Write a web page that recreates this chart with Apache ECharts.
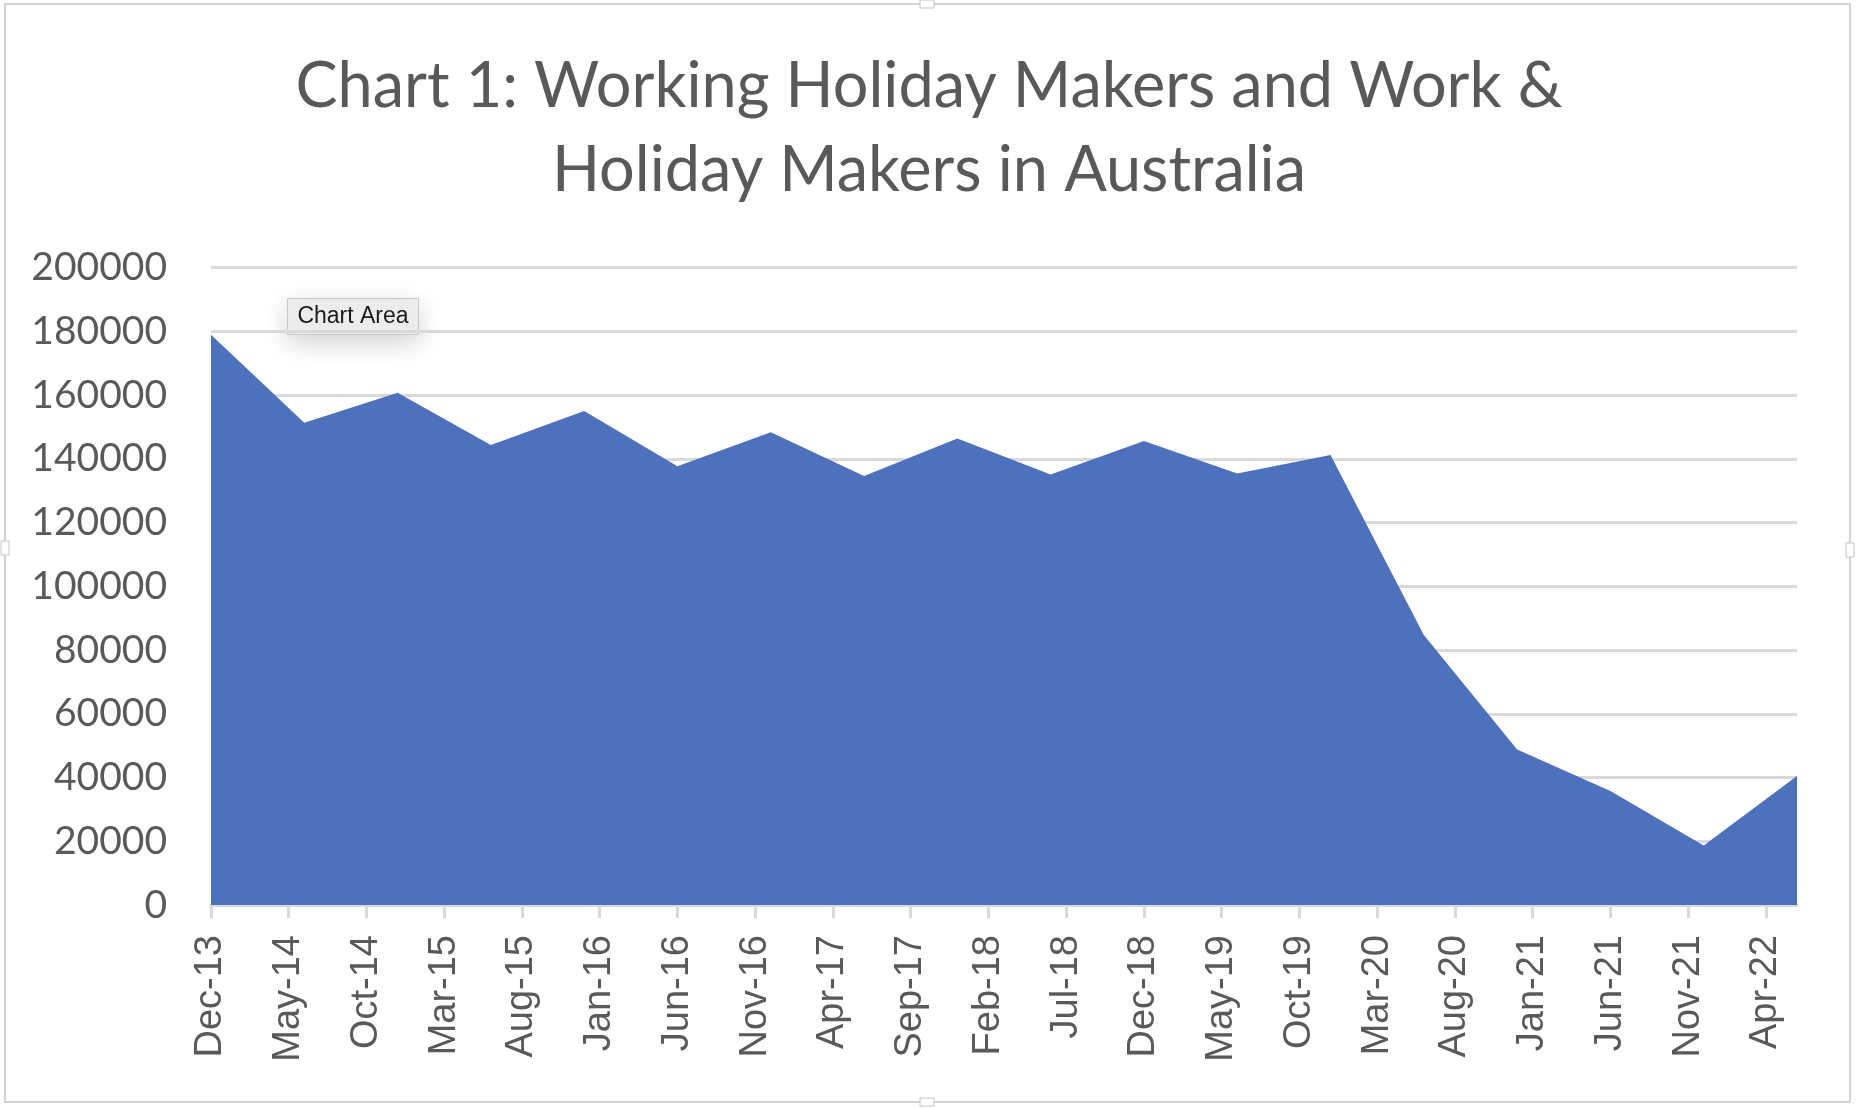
<!DOCTYPE html>
<html>
<head>
<meta charset="utf-8">
<title>Chart 1</title>
<script src="https://cdn.jsdelivr.net/npm/echarts@6/dist/echarts.min.js"></script>
<style>
  html, body { margin: 0; padding: 0; background: #fff; }
  #main { width: 1858px; height: 1108px; }
</style>
</head>
<body>
<div id="main"></div>
<script>
// month names for the date axis
const monthNames = ['Jan', 'Feb', 'Mar', 'Apr', 'May', 'Jun', 'Jul', 'Aug', 'Sep', 'Oct', 'Nov', 'Dec'];
// axis runs Dec-13 .. Jun-22, one category per month
const startYear = 2013, startMonth = 11, monthCount = 103;

// six-monthly observations
const pointMonths = ['Dec-13', 'Jun-14', 'Dec-14', 'Jun-15', 'Dec-15', 'Jun-16', 'Dec-16', 'Jun-17', 'Dec-17',
  'Jun-18', 'Dec-18', 'Jun-19', 'Dec-19', 'Jun-20', 'Dec-20', 'Jun-21', 'Dec-21', 'Jun-22'];
const makers = [178900, 151300, 160700, 144300, 155000, 137700, 148300, 134600, 146400,
  135100, 145600, 135400, 141200, 84700, 48800, 35800, 18700, 40500];

const yTicks = [0, 200000, 20000]; // min, max, step

let categories = [];
for (let i = 0; i < monthCount; i++) {
  let m = (startMonth + i) % 12;
  let y = startYear + Math.floor((startMonth + i) / 12);
  categories.push(monthNames[m] + '-' + String(y).slice(2));
}

let seriesData = [];
for (let i = 0; i < pointMonths.length; i++) {
  seriesData.push([categories.indexOf(pointMonths[i]), makers[i]]);
}

const chart = echarts.init(document.getElementById('main'), null, { renderer: 'canvas' });

const option = {
  animation: false,
  backgroundColor: '#ffffff',
  title: {
    text: 'Chart 1: Working Holiday Makers and Work &\nHoliday Makers in Australia',
    left: 'center',
    top: 40,
    textStyle: {
      fontFamily: 'Lato',
      fontWeight: 'normal',
      fontSize: 63,
      lineHeight: 84,
      color: '#595959'
    }
  },
  grid: {
    left: 211,
    right: 61,
    top: 267.6,
    bottom: 203
  },
  xAxis: {
    type: 'category',
    data: categories,
    boundaryGap: false,
    axisLine: { lineStyle: { color: '#d9d9d9', width: 3 } },
    axisTick: { interval: 4, length: 13, lineStyle: { color: '#d9d9d9', width: 3 } },
    axisLabel: {
      interval: 4,
      rotate: 90,
      margin: 30,
      fontFamily: 'Liberation Sans',
      fontSize: 38,
      color: '#595959'
    },
    splitLine: { show: false }
  },
  yAxis: {
    type: 'value',
    min: yTicks[0],
    max: yTicks[1],
    interval: yTicks[2],
    axisLine: { show: false },
    axisTick: { show: false },
    axisLabel: {
      margin: 44,
      fontFamily: 'Lato',
      fontSize: 39,
      color: '#595959',
      formatter: v => String(v)
    },
    splitLine: { lineStyle: { color: '#d9d9d9', width: 3 } }
  },
  series: [{
    name: 'Working Holiday Makers',
    type: 'line',
    data: seriesData,
    showSymbol: false,
    lineStyle: { width: 0 },
    areaStyle: { color: '#4e71bd', opacity: 1 },
    z: 3
  }],
  graphic: [
    {
      // chart frame
      type: 'rect',
      shape: { x: 5, y: 4, width: 1845, height: 1098 },
      style: { fill: 'none', stroke: '#c4c4c4', lineWidth: 1.5 },
      silent: true
    },
    { type: 'rect', shape: { x: 1, y: 541, width: 8, height: 14 }, style: { fill: '#fff', stroke: '#c4c4c4', lineWidth: 1 } },
    { type: 'rect', shape: { x: 1846, y: 543, width: 8, height: 14 }, style: { fill: '#fff', stroke: '#c4c4c4', lineWidth: 1 } },
    { type: 'rect', shape: { x: 920, y: 0, width: 14, height: 8 }, style: { fill: '#fff', stroke: '#c4c4c4', lineWidth: 1 } },
    { type: 'rect', shape: { x: 920, y: 1098, width: 14, height: 8 }, style: { fill: '#fff', stroke: '#c4c4c4', lineWidth: 1 } },
    {
      // hover tooltip from the spreadsheet
      type: 'group',
      left: 287,
      top: 298,
      z: 100,
      children: [
        {
          type: 'rect',
          shape: { x: 0, y: 0, width: 131, height: 36 },
          style: {
            fill: '#ededed',
            stroke: '#c8c8c8',
            lineWidth: 1,
            shadowBlur: 24,
            shadowColor: 'rgba(0,0,0,0.18)',
            shadowOffsetY: 8
          }
        },
        {
          type: 'text',
          x: 65.5,
          y: 18,
          style: {
            text: 'Chart Area',
            fontFamily: 'Liberation Sans',
            fontSize: 23,
            fill: '#1a1a1a',
            align: 'center',
            verticalAlign: 'middle'
          }
        }
      ]
    }
  ]
};

chart.setOption(option);
</script>
</body>
</html>
